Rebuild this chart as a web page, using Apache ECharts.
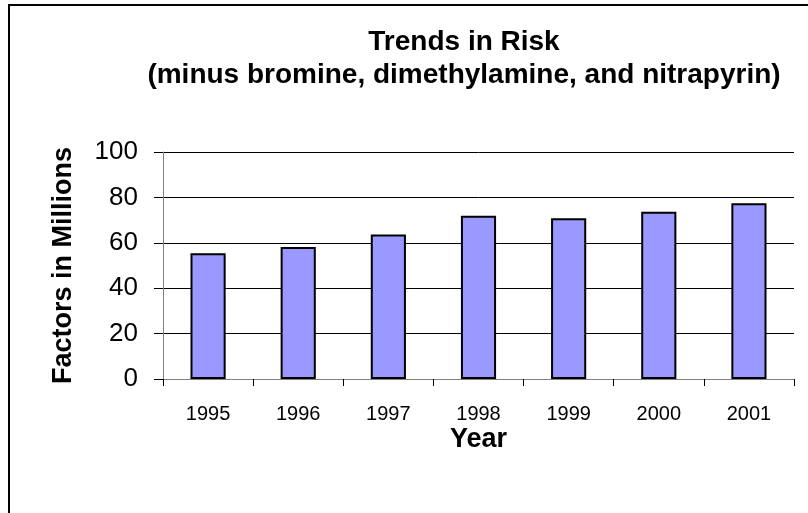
<!DOCTYPE html>
<html>
<head>
<meta charset="utf-8">
<script src="https://cdn.jsdelivr.net/npm/echarts@6/dist/echarts.min.js"></script>
<style>
html,body{margin:0;padding:0;background:#fff;}
#chart{width:808px;height:513px;}
</style>
</head>
<body>
<div id="chart"></div>
<script>
var years = ['1995', '1996', '1997', '1998', '1999', '2000', '2001'];
var values = [55.4, 58.1, 63.7, 71.9, 70.8, 73.7, 77.4];
var yTicks = [0, 20, 40, 60, 80, 100];
var titleLine1 = 'Trends in Risk';
var titleLine2 = '(minus bromine, dimethylamine, and nitrapyrin)';
var xAxisTitle = 'Year';
var yAxisTitle = 'Factors in Millions';

var FONT = '"Liberation Sans", Arial, sans-serif';
var chart = echarts.init(document.getElementById('chart'), null, {renderer: 'canvas'});

var titleStyle = {fontFamily: FONT, fontWeight: 'bold', fontSize: 28, color: '#000'};

chart.setOption({
  animation: false,
  backgroundColor: '#fff',
  title: [
    {text: titleLine1, left: 464, top: 28, textAlign: 'center', padding: 0, textStyle: titleStyle},
    {text: titleLine2, left: 464, top: 61, textAlign: 'center', padding: 0, textStyle: titleStyle}
  ],
  graphic: [
    {type: 'rect', shape: {x: 9, y: 5, width: 900, height: 600},
     style: {fill: 'none', stroke: '#000', lineWidth: 2}, silent: true}
  ],
  grid: {left: 163, right: 14, top: 152, bottom: 134, containLabel: false},
  xAxis: {
    type: 'category', data: years,
    name: xAxisTitle, nameLocation: 'middle', nameGap: 47, nameMoveOverlap: false,
    nameTextStyle: {fontFamily: FONT, fontWeight: 'bold', fontSize: 27, color: '#000'},
    axisLine: {lineStyle: {color: '#808080', width: 1}},
    axisTick: {show: true, inside: false, length: 7, alignWithLabel: false, lineStyle: {color: '#000'}},
    axisLabel: {fontFamily: FONT, fontSize: 20, color: '#000', margin: 25},
    splitLine: {show: false}
  },
  yAxis: {
    type: 'value', min: yTicks[0], max: yTicks[yTicks.length - 1], interval: 20,
    name: yAxisTitle, nameLocation: 'middle', nameGap: 86, nameRotate: 90, nameMoveOverlap: false,
    nameTextStyle: {fontFamily: FONT, fontWeight: 'bold', fontSize: 27, color: '#000'},
    axisLine: {show: true, lineStyle: {color: '#808080', width: 1}},
    axisTick: {show: true, inside: false, length: 9, lineStyle: {color: '#000'}},
    axisLabel: {fontFamily: FONT, fontSize: 26, color: '#000', margin: 25},
    splitLine: {show: true, lineStyle: {color: '#000', width: 1}}
  },
  series: [{
    type: 'bar', data: values, barWidth: '39%',
    itemStyle: {color: '#9999FF', borderColor: '#000', borderWidth: 2}
  }]
});
</script>
</body>
</html>
